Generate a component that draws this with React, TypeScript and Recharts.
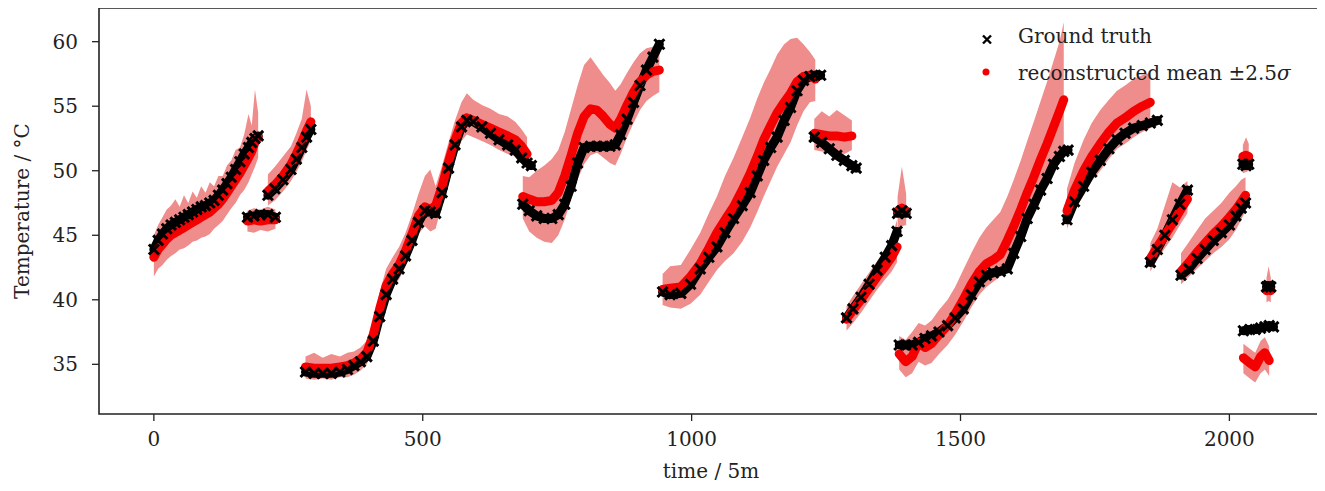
import React from "react";
import { ComposedChart, Line, Area, XAxis, YAxis, ReferenceArea } from "recharts";

// one row = [time, ground truth, reconstructed mean, mean - 2.5σ, mean + 2.5σ]
type Row = [number, number | null, number | null, number | null, number | null];

const segA: Row[] = [
  [0, 43.9, 43.3, 41.8, 45.0], [8, 44.6, 43.9, 42.4, 45.8], [16, 45.1, 44.3, 42.7, 46.4],
  [24, 45.5, 44.7, 43.1, 47.0], [32, 45.8, 45.0, 43.4, 47.3], [40, 46.0, 45.2, 43.6, 47.8],
  [48, 46.2, 45.4, 43.9, 47.2], [56, 46.4, 45.6, 44.0, 48.1], [64, 46.6, 45.8, 44.2, 47.5],
  [72, 46.8, 46.0, 44.5, 48.4], [80, 47.0, 46.2, 44.6, 47.9], [88, 47.2, 46.4, 44.8, 48.8],
  [96, 47.3, 46.6, 44.9, 48.3], [104, 47.5, 46.8, 45.1, 49.1], [112, 47.7, 47.1, 45.5, 48.8],
  [120, 48.1, 47.4, 45.8, 49.6], [128, 48.5, 47.8, 46.1, 49.6], [136, 49.0, 48.3, 46.6, 50.4],
  [144, 49.5, 48.8, 47.1, 50.8], [152, 50.1, 49.3, 47.5, 51.6], [160, 50.7, 49.8, 48.1, 51.8],
  [168, 51.3, 50.4, 48.5, 52.8], [176, 51.8, 51.0, 49.1, 54.4], [182, 52.2, 51.5, 49.7, 53.5],
  [188, 52.5, 52.2, 50.3, 56.3], [194, 52.7, 52.6, 51.0, 54.5],
];

const segB: Row[] = [
  [174, 46.4, 46.1, 45.3, 46.9], [186, 46.5, 46.2, 45.2, 47.1], [198, 46.6, 46.1, 45.4, 47.0],
  [212, 46.6, 46.2, 45.3, 47.2], [226, 46.4, 46.2, 45.5, 47.0],
];

const segC: Row[] = [
  [212, 48.1, 48.4, 47.3, 49.7], [225, 48.6, 48.9, 47.7, 50.3], [240, 49.3, 49.6, 48.4, 51.1],
  [255, 50.1, 50.5, 49.2, 51.9], [265, 50.9, 51.3, 49.9, 52.9], [275, 51.8, 52.2, 50.7, 54.0],
  [284, 52.6, 53.1, 51.6, 56.3], [292, 53.2, 53.8, 52.3, 55.0],
];

const segD: Row[] = [
  [282, 34.4, 34.8, 33.9, 35.6], [298, 34.3, 34.7, 33.8, 35.9], [314, 34.3, 34.7, 33.9, 35.5],
  [330, 34.3, 34.7, 33.8, 35.8], [346, 34.4, 34.8, 34.0, 35.6], [360, 34.6, 34.9, 34.0, 35.9],
  [372, 34.9, 35.1, 34.2, 36.0], [384, 35.2, 35.4, 34.5, 36.3], [396, 35.6, 35.9, 35.0, 36.8],
  [408, 36.8, 37.3, 36.3, 38.4], [420, 38.7, 39.3, 38.2, 40.6], [432, 40.4, 41.1, 40.0, 42.4],
  [444, 41.6, 42.0, 40.9, 43.3], [456, 42.4, 42.7, 41.6, 44.1], [468, 43.4, 43.8, 42.6, 45.2],
  [480, 44.6, 45.1, 43.8, 46.6], [492, 46.0, 46.5, 45.1, 48.2], [504, 46.9, 47.2, 45.7, 49.6],
  [514, 46.8, 47.0, 45.3, 50.1], [524, 46.7, 47.3, 45.5, 48.8], [536, 48.3, 48.8, 47.4, 50.4],
  [548, 50.2, 50.7, 49.3, 52.2], [560, 52.0, 52.4, 51.0, 53.9], [572, 53.4, 53.7, 52.3, 55.3],
  [582, 53.9, 54.1, 52.8, 56.0], [594, 53.8, 53.9, 52.6, 55.5], [610, 53.4, 53.6, 52.3, 55.1],
  [626, 52.9, 53.3, 52.0, 54.8], [642, 52.4, 53.0, 51.6, 54.4], [658, 52.0, 52.7, 51.3, 54.2],
  [672, 51.6, 52.4, 51.1, 53.8], [684, 51.0, 51.9, 50.6, 53.2], [694, 50.6, 51.3, 50.1, 52.6],
  [702, 50.4, null, null, null],
];

const segE: Row[] = [
  [686, 47.4, 48.0, 46.3, 49.6], [698, 46.9, 47.8, 45.3, 49.5], [712, 46.5, 47.6, 44.8, 50.0],
  [726, 46.3, 47.6, 44.5, 50.4], [740, 46.3, 47.7, 44.4, 50.9], [752, 46.6, 48.3, 45.0, 51.6],
  [764, 47.4, 49.6, 46.2, 53.0], [776, 48.8, 51.2, 47.8, 54.8], [788, 50.6, 52.9, 49.3, 56.6],
  [800, 51.8, 54.2, 50.5, 58.2], [812, 51.9, 54.8, 51.2, 58.8], [824, 51.9, 54.7, 51.4, 58.1],
  [836, 51.9, 54.2, 51.0, 57.4], [848, 51.9, 53.6, 50.6, 56.8], [858, 52.0, 53.3, 50.4, 56.2],
  [868, 52.8, 54.0, 51.3, 56.7], [880, 54.0, 55.1, 52.6, 57.6], [892, 55.3, 56.1, 53.7, 58.4],
  [904, 56.6, 56.9, 54.7, 59.1], [916, 57.8, 57.4, 55.4, 59.5], [928, 58.8, 57.7, 55.8, 59.6],
  [940, 59.8, 57.8, 56.1, 59.7],
];

const segF: Row[] = [
  [946, 40.6, 40.8, 39.6, 42.0], [960, 40.4, 40.9, 39.4, 42.6], [980, 40.5, 41.0, 39.3, 42.7],
  [998, 41.2, 41.8, 39.7, 43.9], [1016, 42.4, 42.8, 40.4, 45.2], [1032, 43.3, 44.0, 41.4, 46.7],
  [1047, 44.1, 45.2, 42.3, 48.0], [1062, 45.2, 46.2, 43.0, 49.6], [1078, 46.3, 47.2, 43.6, 51.0],
  [1094, 47.3, 48.5, 44.5, 52.6], [1109, 48.3, 49.8, 45.6, 54.1], [1122, 49.6, 51.1, 46.8, 55.6],
  [1134, 50.8, 52.4, 48.0, 56.8], [1147, 51.8, 53.5, 49.2, 57.9], [1159, 52.6, 54.5, 50.3, 59.0],
  [1172, 53.9, 55.3, 51.3, 59.8], [1184, 54.9, 56.0, 52.2, 60.2], [1196, 56.2, 56.9, 53.5, 60.3],
  [1208, 57.0, 57.3, 54.6, 59.8], [1220, 57.3, 57.4, 55.3, 59.2], [1230, 57.4, 57.1, 55.4, 58.6],
  [1240, 57.4, null, null, null],
];

const segG: Row[] = [
  [1228, 52.6, 52.9, 51.6, 54.0], [1242, 52.2, 52.8, 51.5, 54.6], [1256, 51.7, 52.7, 51.4, 54.2],
  [1270, 51.2, 52.7, 51.5, 54.7], [1284, 50.8, 52.6, 51.3, 54.3], [1298, 50.4, 52.7, 51.6, 53.9],
  [1306, 50.2, null, null, null],
];

const segH: Row[] = [
  [1288, 38.6, 38.5, 37.6, 39.5], [1300, 39.3, 39.2, 38.2, 40.3], [1315, 40.2, 40.0, 39.0, 41.2],
  [1330, 41.2, 40.9, 39.9, 42.1], [1345, 42.3, 41.8, 40.8, 43.0], [1360, 43.3, 42.6, 41.6, 43.8],
  [1372, 44.2, 43.3, 42.2, 44.8], [1382, 45.3, 44.1, 42.9, 46.2],
];

const segH2: Row[] = [
  [1383, 46.7, 46.9, 45.6, 48.0], [1391, 46.9, 47.1, 45.7, 50.3], [1399, 46.7, 46.9, 45.8, 48.2],
];

const segI: Row[] = [
  [1386, 36.5, 35.8, 34.6, 37.2], [1398, 36.5, 35.2, 34.0, 36.9], [1410, 36.5, 35.6, 34.3, 37.5],
  [1422, 36.7, 36.7, 35.2, 38.2], [1434, 37.0, 36.3, 34.9, 38.0], [1446, 37.2, 36.6, 35.1, 38.4],
  [1460, 37.5, 37.3, 35.8, 39.2], [1476, 38.0, 38.0, 36.5, 40.0], [1490, 38.6, 38.9, 37.3, 41.0],
  [1505, 39.3, 40.0, 38.3, 42.3], [1520, 40.4, 41.2, 39.4, 43.6], [1535, 41.4, 42.2, 40.4, 44.8],
  [1548, 41.9, 42.8, 41.0, 45.6], [1561, 42.1, 43.1, 41.4, 46.2], [1574, 42.2, 43.5, 41.8, 46.8],
  [1587, 42.4, 44.6, 42.5, 48.0], [1599, 43.6, 45.7, 43.5, 49.3], [1612, 44.9, 47.0, 44.6, 50.8],
  [1624, 46.3, 48.3, 45.9, 52.3], [1637, 47.4, 49.6, 47.0, 53.9], [1649, 48.5, 50.9, 48.2, 55.4],
  [1661, 49.4, 52.1, 49.3, 56.9], [1673, 50.5, 53.4, 50.4, 58.5], [1684, 51.1, 54.6, 51.3, 60.0],
  [1692, 51.5, 55.5, 51.9, 61.5], [1700, 51.6, null, null, null],
];

const segJ: Row[] = [
  [1698, 46.2, 46.9, 45.5, 48.6], [1712, 47.6, 48.5, 46.9, 50.6], [1729, 48.8, 50.0, 48.1, 52.4],
  [1744, 49.9, 51.1, 49.2, 53.7], [1760, 50.8, 52.1, 50.0, 54.7], [1776, 51.7, 53.0, 50.9, 55.5],
  [1791, 52.4, 53.7, 51.7, 56.2], [1806, 52.9, 54.1, 52.1, 56.6], [1822, 53.3, 54.6, 52.6, 57.1],
  [1838, 53.5, 55.0, 53.0, 57.4], [1853, 53.7, 55.3, 53.3, 57.6], [1866, 53.9, null, null, null],
];

const segK: Row[] = [
  [1853, 42.9, 43.2, 42.2, 44.4], [1866, 43.9, 44.1, 43.1, 45.5], [1880, 45.0, 45.0, 44.0, 47.3],
  [1894, 46.2, 45.9, 44.8, 49.1], [1908, 47.4, 46.9, 45.8, 48.7], [1922, 48.5, 47.8, 46.7, 49.2],
];

const segL: Row[] = [
  [1910, 41.9, 42.2, 41.2, 43.6], [1925, 42.4, 42.9, 41.8, 44.5], [1940, 43.2, 43.7, 42.4, 45.4],
  [1955, 43.9, 44.4, 43.0, 46.3], [1970, 44.6, 45.1, 43.6, 46.9], [1985, 45.2, 45.7, 44.1, 47.5],
  [2000, 45.8, 46.4, 44.7, 48.3], [2012, 46.5, 47.0, 45.4, 48.8], [2022, 47.1, 47.6, 46.2, 49.3],
  [2030, 47.5, 48.1, 46.9, 49.5],
];

const segM: Row[] = [
  [2025, 50.5, 51.1, 49.8, 52.0], [2031, 50.4, 51.2, 49.9, 52.6], [2036, 50.5, 51.1, 50.0, 52.1],
];

const segN: Row[] = [
  [2026, 37.6, 35.5, 34.3, 36.6], [2038, 37.7, 35.1, 33.9, 36.2], [2048, 37.7, 34.8, 33.6, 35.9],
  [2058, 37.8, 35.6, 34.3, 36.8], [2066, 37.9, 35.9, 34.6, 37.1], [2074, 38.0, 35.3, 34.1, 36.4],
  [2082, 37.9, null, null, null],
];

const segO: Row[] = [
  [2069, 41.0, 40.7, 39.8, 41.7], [2073, 41.1, 40.8, 39.9, 42.6], [2077, 41.0, 40.7, 39.8, 41.7],
];

const SEGMENTS = [segA, segB, segC, segD, segE, segF, segG, segH, segH2, segI, segJ, segK, segL, segM, segN, segO];

const X_TICKS = [0, 500, 1000, 1500, 2000];
const Y_TICKS = [35, 40, 45, 50, 55, 60];

const FONT = "'DejaVu Serif', serif";
const RED = "#f40000";
const PINK = "#ef8c8c";

const series = SEGMENTS.map((seg) =>
  seg.map(([t, gt, mu, lo, hi]) => ({
    t,
    gt,
    mu,
    band: lo == null || hi == null ? null : [lo, hi],
  }))
);

const Cross = (p: any) => {
  const { cx, cy, index } = p;
  if (cx == null || cy == null) return <g key={`c${index}`} />;
  const s = 5;
  return (
    <path
      key={`c${index}`}
      d={`M${cx - s},${cy - s}L${cx + s},${cy + s}M${cx - s},${cy + s}L${cx + s},${cy - s}`}
      stroke="#000"
      strokeWidth={3}
    />
  );
};

export default function App() {
  return (
    <div style={{ position: "relative", width: 1325, height: 491, margin: "-8px 0 0 -8px", fontFamily: FONT, background: "#fff" }}>
      <ComposedChart width={1325} height={491} margin={{ top: 8, right: 1.5, bottom: 0, left: 0 }}>
        <XAxis
          type="number"
          dataKey="t"
          domain={[-102, 2175]}
          ticks={X_TICKS}
          allowDataOverflow
          height={77}
          axisLine={false}
          tickSize={7}
          tickMargin={11}
          tickLine={{ stroke: "#222", strokeWidth: 1.3 }}
          tick={{ fill: "#222", fontSize: 20, fontFamily: FONT }}
        />
        <YAxis
          type="number"
          domain={[31.15, 62.61]}
          ticks={Y_TICKS}
          allowDataOverflow
          width={99}
          axisLine={false}
          tickSize={7}
          tickMargin={14}
          tickLine={{ stroke: "#222", strokeWidth: 1.3 }}
          tick={{ fill: "#222", fontSize: 20, fontFamily: FONT }}
        />
        {series.map((rows, i) => (
          <Area
            key={`band${i}`}
            data={rows.filter((r) => r.band)}
            dataKey="band"
            type="linear"
            stroke="none"
            fill={PINK}
            fillOpacity={1}
            isAnimationActive={false}
            activeDot={false}
          />
        ))}
        {series.map((rows, i) => (
          <Line
            key={`gt${i}`}
            data={rows}
            dataKey="gt"
            type="linear"
            stroke="#000"
            strokeWidth={9}
            strokeLinecap="round"
            strokeLinejoin="round"
            dot={Cross}
            activeDot={false}
            isAnimationActive={false}
          />
        ))}
        {series.map((rows, i) => (
          <Line
            key={`mu${i}`}
            data={rows.filter((r) => r.mu != null)}
            dataKey="mu"
            type="linear"
            stroke={RED}
            strokeWidth={9}
            strokeLinecap="round"
            strokeLinejoin="round"
            dot={false}
            activeDot={false}
            isAnimationActive={false}
          />
        ))}
        <ReferenceArea x1={-102} x2={2175} y1={31.15} y2={62.61} fill="none" stroke="#222" strokeWidth={1.6} />
      </ComposedChart>

      {/* axis titles */}
      <div style={{ position: "absolute", left: 561, width: 300, top: 459, textAlign: "center", fontSize: 20, lineHeight: "24px", color: "#222" }}>
        time / 5m
      </div>
      <div
        style={{
          position: "absolute",
          left: 22,
          top: 211,
          transform: "translate(-50%, -50%) rotate(-90deg)",
          whiteSpace: "nowrap",
          fontSize: 20,
          lineHeight: "24px",
          color: "#222",
        }}
      >
        Temperature / °C
      </div>

      {/* legend */}
      <svg style={{ position: "absolute", left: 975, top: 28 }} width={24} height={56}>
        <path d="M8,7.5L16,15.5M8,15.5L16,7.5" stroke="#000" strokeWidth={2.4} />
        <circle cx={11} cy={44} r={3.5} fill={RED} />
      </svg>
      <div style={{ position: "absolute", left: 1018, top: 24, fontSize: 20, lineHeight: "24px", color: "#222", whiteSpace: "nowrap" }}>
        Ground truth
      </div>
      <div style={{ position: "absolute", left: 1018, top: 61, fontSize: 20, lineHeight: "24px", color: "#222", whiteSpace: "nowrap" }}>
        reconstructed mean ±2.5<i>σ</i>
      </div>
    </div>
  );
}
